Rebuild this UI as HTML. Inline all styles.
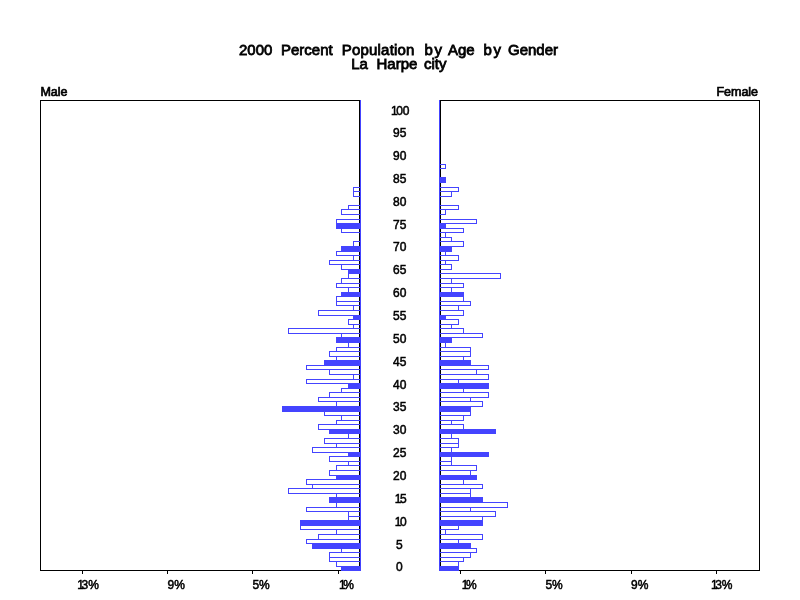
<!DOCTYPE html>
<html><head><meta charset="utf-8"><title>2000 Percent Population by Age by Gender</title>
<style>html,body{margin:0;padding:0;background:#fff}svg{display:block}text{font-family:"Liberation Sans",Arial,Helvetica,sans-serif;fill:#000}.t{font-size:15px;stroke:#000;stroke-width:.8px}.l{font-size:12px;stroke:#000;stroke-width:.5px}.h{font-size:12.5px;stroke:#000;stroke-width:.7px}</style></head><body>
<svg width="800" height="600" viewBox="0 0 800 600">
<rect width="800" height="600" fill="#fff"/>
<g shape-rendering="crispEdges">
<rect x="40.5" y="100.5" width="319" height="470" fill="none" stroke="#000" stroke-width="1"/>
<rect x="440.5" y="100.5" width="319" height="470" fill="none" stroke="#000" stroke-width="1"/>
<rect x="338" y="571" width="1" height="3" fill="#000"/>
<rect x="460" y="571" width="1" height="3" fill="#000"/>
<rect x="252" y="571" width="1" height="3" fill="#000"/>
<rect x="545" y="571" width="1" height="3" fill="#000"/>
<rect x="167" y="571" width="1" height="3" fill="#000"/>
<rect x="631" y="571" width="1" height="3" fill="#000"/>
<rect x="82" y="571" width="1" height="3" fill="#000"/>
<rect x="716" y="571" width="1" height="3" fill="#000"/>
<rect x="360" y="100" width="1" height="471" fill="#4444ff"/>
<rect x="439" y="100" width="1" height="471" fill="#4444ff"/>
<rect x="341" y="566" width="20" height="5" fill="#4444ff"/>
<rect x="439" y="566" width="20" height="5" fill="#4444ff"/>
<rect x="336.5" y="561.5" width="24" height="5" fill="none" stroke="#4444ff" stroke-width="1"/>
<rect x="439.5" y="561.5" width="19" height="5" fill="none" stroke="#4444ff" stroke-width="1"/>
<rect x="329.5" y="557.5" width="31" height="4" fill="none" stroke="#4444ff" stroke-width="1"/>
<rect x="439.5" y="557.5" width="24" height="4" fill="none" stroke="#4444ff" stroke-width="1"/>
<rect x="329.5" y="552.5" width="31" height="5" fill="none" stroke="#4444ff" stroke-width="1"/>
<rect x="439.5" y="552.5" width="31" height="5" fill="none" stroke="#4444ff" stroke-width="1"/>
<rect x="341.5" y="548.5" width="19" height="4" fill="none" stroke="#4444ff" stroke-width="1"/>
<rect x="439.5" y="548.5" width="37" height="4" fill="none" stroke="#4444ff" stroke-width="1"/>
<rect x="312" y="543" width="49" height="6" fill="#4444ff"/>
<rect x="439" y="543" width="32" height="6" fill="#4444ff"/>
<rect x="306.5" y="539.5" width="54" height="4" fill="none" stroke="#4444ff" stroke-width="1"/>
<rect x="439.5" y="539.5" width="19" height="4" fill="none" stroke="#4444ff" stroke-width="1"/>
<rect x="318.5" y="534.5" width="42" height="5" fill="none" stroke="#4444ff" stroke-width="1"/>
<rect x="439.5" y="534.5" width="43" height="5" fill="none" stroke="#4444ff" stroke-width="1"/>
<rect x="336.5" y="529.5" width="24" height="5" fill="none" stroke="#4444ff" stroke-width="1"/>
<rect x="439.5" y="529.5" width="6" height="5" fill="none" stroke="#4444ff" stroke-width="1"/>
<rect x="300.5" y="525.5" width="60" height="4" fill="none" stroke="#4444ff" stroke-width="1"/>
<rect x="439.5" y="525.5" width="19" height="4" fill="none" stroke="#4444ff" stroke-width="1"/>
<rect x="300" y="520" width="61" height="6" fill="#4444ff"/>
<rect x="439" y="520" width="44" height="6" fill="#4444ff"/>
<rect x="348.5" y="516.5" width="12" height="4" fill="none" stroke="#4444ff" stroke-width="1"/>
<rect x="439.5" y="516.5" width="43" height="4" fill="none" stroke="#4444ff" stroke-width="1"/>
<rect x="348.5" y="511.5" width="12" height="5" fill="none" stroke="#4444ff" stroke-width="1"/>
<rect x="439.5" y="511.5" width="56" height="5" fill="none" stroke="#4444ff" stroke-width="1"/>
<rect x="306.5" y="507.5" width="54" height="4" fill="none" stroke="#4444ff" stroke-width="1"/>
<rect x="439.5" y="507.5" width="31" height="4" fill="none" stroke="#4444ff" stroke-width="1"/>
<rect x="336.5" y="502.5" width="24" height="5" fill="none" stroke="#4444ff" stroke-width="1"/>
<rect x="439.5" y="502.5" width="68" height="5" fill="none" stroke="#4444ff" stroke-width="1"/>
<rect x="329" y="497" width="32" height="6" fill="#4444ff"/>
<rect x="439" y="497" width="44" height="6" fill="#4444ff"/>
<rect x="336.5" y="493.5" width="24" height="4" fill="none" stroke="#4444ff" stroke-width="1"/>
<rect x="439.5" y="493.5" width="31" height="4" fill="none" stroke="#4444ff" stroke-width="1"/>
<rect x="288.5" y="488.5" width="72" height="5" fill="none" stroke="#4444ff" stroke-width="1"/>
<rect x="439.5" y="488.5" width="31" height="5" fill="none" stroke="#4444ff" stroke-width="1"/>
<rect x="312.5" y="484.5" width="48" height="4" fill="none" stroke="#4444ff" stroke-width="1"/>
<rect x="439.5" y="484.5" width="43" height="4" fill="none" stroke="#4444ff" stroke-width="1"/>
<rect x="306.5" y="479.5" width="54" height="5" fill="none" stroke="#4444ff" stroke-width="1"/>
<rect x="439.5" y="479.5" width="24" height="5" fill="none" stroke="#4444ff" stroke-width="1"/>
<rect x="336" y="475" width="25" height="5" fill="#4444ff"/>
<rect x="439" y="475" width="38" height="5" fill="#4444ff"/>
<rect x="329.5" y="470.5" width="31" height="5" fill="none" stroke="#4444ff" stroke-width="1"/>
<rect x="439.5" y="470.5" width="31" height="5" fill="none" stroke="#4444ff" stroke-width="1"/>
<rect x="336.5" y="465.5" width="24" height="5" fill="none" stroke="#4444ff" stroke-width="1"/>
<rect x="439.5" y="465.5" width="37" height="5" fill="none" stroke="#4444ff" stroke-width="1"/>
<rect x="348.5" y="461.5" width="12" height="4" fill="none" stroke="#4444ff" stroke-width="1"/>
<rect x="439.5" y="461.5" width="12" height="4" fill="none" stroke="#4444ff" stroke-width="1"/>
<rect x="329.5" y="456.5" width="31" height="5" fill="none" stroke="#4444ff" stroke-width="1"/>
<rect x="439.5" y="456.5" width="12" height="5" fill="none" stroke="#4444ff" stroke-width="1"/>
<rect x="348" y="452" width="13" height="5" fill="#4444ff"/>
<rect x="439" y="452" width="50" height="5" fill="#4444ff"/>
<rect x="312.5" y="447.5" width="48" height="5" fill="none" stroke="#4444ff" stroke-width="1"/>
<rect x="439.5" y="447.5" width="12" height="5" fill="none" stroke="#4444ff" stroke-width="1"/>
<rect x="336.5" y="443.5" width="24" height="4" fill="none" stroke="#4444ff" stroke-width="1"/>
<rect x="439.5" y="443.5" width="19" height="4" fill="none" stroke="#4444ff" stroke-width="1"/>
<rect x="324.5" y="438.5" width="36" height="5" fill="none" stroke="#4444ff" stroke-width="1"/>
<rect x="439.5" y="438.5" width="19" height="5" fill="none" stroke="#4444ff" stroke-width="1"/>
<rect x="348.5" y="433.5" width="12" height="5" fill="none" stroke="#4444ff" stroke-width="1"/>
<rect x="439.5" y="433.5" width="12" height="5" fill="none" stroke="#4444ff" stroke-width="1"/>
<rect x="329" y="429" width="32" height="5" fill="#4444ff"/>
<rect x="439" y="429" width="57" height="5" fill="#4444ff"/>
<rect x="318.5" y="424.5" width="42" height="5" fill="none" stroke="#4444ff" stroke-width="1"/>
<rect x="439.5" y="424.5" width="24" height="5" fill="none" stroke="#4444ff" stroke-width="1"/>
<rect x="336.5" y="420.5" width="24" height="4" fill="none" stroke="#4444ff" stroke-width="1"/>
<rect x="439.5" y="420.5" width="12" height="4" fill="none" stroke="#4444ff" stroke-width="1"/>
<rect x="341.5" y="415.5" width="19" height="5" fill="none" stroke="#4444ff" stroke-width="1"/>
<rect x="439.5" y="415.5" width="24" height="5" fill="none" stroke="#4444ff" stroke-width="1"/>
<rect x="324.5" y="411.5" width="36" height="4" fill="none" stroke="#4444ff" stroke-width="1"/>
<rect x="439.5" y="411.5" width="31" height="4" fill="none" stroke="#4444ff" stroke-width="1"/>
<rect x="282" y="406" width="79" height="6" fill="#4444ff"/>
<rect x="439" y="406" width="32" height="6" fill="#4444ff"/>
<rect x="336.5" y="401.5" width="24" height="5" fill="none" stroke="#4444ff" stroke-width="1"/>
<rect x="439.5" y="401.5" width="43" height="5" fill="none" stroke="#4444ff" stroke-width="1"/>
<rect x="318.5" y="397.5" width="42" height="4" fill="none" stroke="#4444ff" stroke-width="1"/>
<rect x="439.5" y="397.5" width="31" height="4" fill="none" stroke="#4444ff" stroke-width="1"/>
<rect x="329.5" y="392.5" width="31" height="5" fill="none" stroke="#4444ff" stroke-width="1"/>
<rect x="439.5" y="392.5" width="49" height="5" fill="none" stroke="#4444ff" stroke-width="1"/>
<rect x="341.5" y="388.5" width="19" height="4" fill="none" stroke="#4444ff" stroke-width="1"/>
<rect x="439.5" y="388.5" width="24" height="4" fill="none" stroke="#4444ff" stroke-width="1"/>
<rect x="348" y="383" width="13" height="6" fill="#4444ff"/>
<rect x="439" y="383" width="50" height="6" fill="#4444ff"/>
<rect x="306.5" y="379.5" width="54" height="4" fill="none" stroke="#4444ff" stroke-width="1"/>
<rect x="439.5" y="379.5" width="19" height="4" fill="none" stroke="#4444ff" stroke-width="1"/>
<rect x="353.5" y="374.5" width="7" height="5" fill="none" stroke="#4444ff" stroke-width="1"/>
<rect x="439.5" y="374.5" width="49" height="5" fill="none" stroke="#4444ff" stroke-width="1"/>
<rect x="329.5" y="369.5" width="31" height="5" fill="none" stroke="#4444ff" stroke-width="1"/>
<rect x="439.5" y="369.5" width="37" height="5" fill="none" stroke="#4444ff" stroke-width="1"/>
<rect x="306.5" y="365.5" width="54" height="4" fill="none" stroke="#4444ff" stroke-width="1"/>
<rect x="439.5" y="365.5" width="49" height="4" fill="none" stroke="#4444ff" stroke-width="1"/>
<rect x="324" y="360" width="37" height="6" fill="#4444ff"/>
<rect x="439" y="360" width="32" height="6" fill="#4444ff"/>
<rect x="336.5" y="356.5" width="24" height="4" fill="none" stroke="#4444ff" stroke-width="1"/>
<rect x="439.5" y="356.5" width="24" height="4" fill="none" stroke="#4444ff" stroke-width="1"/>
<rect x="329.5" y="351.5" width="31" height="5" fill="none" stroke="#4444ff" stroke-width="1"/>
<rect x="439.5" y="351.5" width="31" height="5" fill="none" stroke="#4444ff" stroke-width="1"/>
<rect x="336.5" y="347.5" width="24" height="4" fill="none" stroke="#4444ff" stroke-width="1"/>
<rect x="439.5" y="347.5" width="31" height="4" fill="none" stroke="#4444ff" stroke-width="1"/>
<rect x="348.5" y="342.5" width="12" height="5" fill="none" stroke="#4444ff" stroke-width="1"/>
<rect x="439.5" y="342.5" width="6" height="5" fill="none" stroke="#4444ff" stroke-width="1"/>
<rect x="336" y="337" width="25" height="6" fill="#4444ff"/>
<rect x="439" y="337" width="13" height="6" fill="#4444ff"/>
<rect x="341.5" y="333.5" width="19" height="4" fill="none" stroke="#4444ff" stroke-width="1"/>
<rect x="439.5" y="333.5" width="43" height="4" fill="none" stroke="#4444ff" stroke-width="1"/>
<rect x="288.5" y="328.5" width="72" height="5" fill="none" stroke="#4444ff" stroke-width="1"/>
<rect x="439.5" y="328.5" width="24" height="5" fill="none" stroke="#4444ff" stroke-width="1"/>
<rect x="353.5" y="324.5" width="7" height="4" fill="none" stroke="#4444ff" stroke-width="1"/>
<rect x="439.5" y="324.5" width="12" height="4" fill="none" stroke="#4444ff" stroke-width="1"/>
<rect x="348.5" y="319.5" width="12" height="5" fill="none" stroke="#4444ff" stroke-width="1"/>
<rect x="439.5" y="319.5" width="19" height="5" fill="none" stroke="#4444ff" stroke-width="1"/>
<rect x="353" y="315" width="8" height="5" fill="#4444ff"/>
<rect x="439" y="315" width="7" height="5" fill="#4444ff"/>
<rect x="318.5" y="310.5" width="42" height="5" fill="none" stroke="#4444ff" stroke-width="1"/>
<rect x="439.5" y="310.5" width="24" height="5" fill="none" stroke="#4444ff" stroke-width="1"/>
<rect x="353.5" y="305.5" width="7" height="5" fill="none" stroke="#4444ff" stroke-width="1"/>
<rect x="439.5" y="305.5" width="19" height="5" fill="none" stroke="#4444ff" stroke-width="1"/>
<rect x="336.5" y="301.5" width="24" height="4" fill="none" stroke="#4444ff" stroke-width="1"/>
<rect x="439.5" y="301.5" width="31" height="4" fill="none" stroke="#4444ff" stroke-width="1"/>
<rect x="336.5" y="296.5" width="24" height="5" fill="none" stroke="#4444ff" stroke-width="1"/>
<rect x="439.5" y="296.5" width="24" height="5" fill="none" stroke="#4444ff" stroke-width="1"/>
<rect x="341" y="292" width="20" height="5" fill="#4444ff"/>
<rect x="439" y="292" width="25" height="5" fill="#4444ff"/>
<rect x="348.5" y="287.5" width="12" height="5" fill="none" stroke="#4444ff" stroke-width="1"/>
<rect x="439.5" y="287.5" width="12" height="5" fill="none" stroke="#4444ff" stroke-width="1"/>
<rect x="336.5" y="283.5" width="24" height="4" fill="none" stroke="#4444ff" stroke-width="1"/>
<rect x="439.5" y="283.5" width="24" height="4" fill="none" stroke="#4444ff" stroke-width="1"/>
<rect x="341.5" y="278.5" width="19" height="5" fill="none" stroke="#4444ff" stroke-width="1"/>
<rect x="439.5" y="278.5" width="12" height="5" fill="none" stroke="#4444ff" stroke-width="1"/>
<rect x="348.5" y="273.5" width="12" height="5" fill="none" stroke="#4444ff" stroke-width="1"/>
<rect x="439.5" y="273.5" width="61" height="5" fill="none" stroke="#4444ff" stroke-width="1"/>
<rect x="348" y="269" width="13" height="5" fill="#4444ff"/>
<rect x="341.5" y="264.5" width="19" height="5" fill="none" stroke="#4444ff" stroke-width="1"/>
<rect x="439.5" y="264.5" width="12" height="5" fill="none" stroke="#4444ff" stroke-width="1"/>
<rect x="329.5" y="260.5" width="31" height="4" fill="none" stroke="#4444ff" stroke-width="1"/>
<rect x="439.5" y="260.5" width="6" height="4" fill="none" stroke="#4444ff" stroke-width="1"/>
<rect x="353.5" y="255.5" width="7" height="5" fill="none" stroke="#4444ff" stroke-width="1"/>
<rect x="439.5" y="255.5" width="19" height="5" fill="none" stroke="#4444ff" stroke-width="1"/>
<rect x="336.5" y="251.5" width="24" height="4" fill="none" stroke="#4444ff" stroke-width="1"/>
<rect x="439.5" y="251.5" width="6" height="4" fill="none" stroke="#4444ff" stroke-width="1"/>
<rect x="341" y="246" width="20" height="6" fill="#4444ff"/>
<rect x="439" y="246" width="13" height="6" fill="#4444ff"/>
<rect x="353.5" y="241.5" width="7" height="5" fill="none" stroke="#4444ff" stroke-width="1"/>
<rect x="439.5" y="241.5" width="24" height="5" fill="none" stroke="#4444ff" stroke-width="1"/>
<rect x="439.5" y="237.5" width="12" height="4" fill="none" stroke="#4444ff" stroke-width="1"/>
<rect x="439.5" y="232.5" width="6" height="5" fill="none" stroke="#4444ff" stroke-width="1"/>
<rect x="341.5" y="228.5" width="19" height="4" fill="none" stroke="#4444ff" stroke-width="1"/>
<rect x="439.5" y="228.5" width="24" height="4" fill="none" stroke="#4444ff" stroke-width="1"/>
<rect x="336" y="223" width="25" height="6" fill="#4444ff"/>
<rect x="439" y="223" width="7" height="6" fill="#4444ff"/>
<rect x="336.5" y="219.5" width="24" height="4" fill="none" stroke="#4444ff" stroke-width="1"/>
<rect x="439.5" y="219.5" width="37" height="4" fill="none" stroke="#4444ff" stroke-width="1"/>
<rect x="341.5" y="209.5" width="19" height="5" fill="none" stroke="#4444ff" stroke-width="1"/>
<rect x="439.5" y="209.5" width="6" height="5" fill="none" stroke="#4444ff" stroke-width="1"/>
<rect x="348.5" y="205.5" width="12" height="4" fill="none" stroke="#4444ff" stroke-width="1"/>
<rect x="439.5" y="205.5" width="19" height="4" fill="none" stroke="#4444ff" stroke-width="1"/>
<rect x="353.5" y="191.5" width="7" height="5" fill="none" stroke="#4444ff" stroke-width="1"/>
<rect x="439.5" y="191.5" width="12" height="5" fill="none" stroke="#4444ff" stroke-width="1"/>
<rect x="353.5" y="187.5" width="7" height="4" fill="none" stroke="#4444ff" stroke-width="1"/>
<rect x="439.5" y="187.5" width="19" height="4" fill="none" stroke="#4444ff" stroke-width="1"/>
<rect x="439" y="177" width="7" height="6" fill="#4444ff"/>
<rect x="439.5" y="164.5" width="6" height="4" fill="none" stroke="#4444ff" stroke-width="1"/>
</g>
<text class="t" x="239" y="54.8">2000</text>
<text class="t" x="281" y="54.8">Percent</text>
<text class="t" x="341.75" y="54.8" letter-spacing="0.2">Population</text>
<text class="t" x="424.5" y="54.8" letter-spacing="1.6">by</text>
<text class="t" x="448" y="54.8">Age</text>
<text class="t" x="483.5" y="54.8" letter-spacing="1.6">by</text>
<text class="t" x="508" y="54.8">Gender</text>
<text class="t" x="351.25" y="68.7">La</text>
<text class="t" x="376.5" y="68.7">Harpe</text>
<text class="t" x="424" y="68.7">city</text>
<text class="h" x="40.4" y="96">Male</text>
<text class="h" x="716.4" y="96">Female</text>
<text class="l" x="395.9" y="571.4">0</text>
<text class="l" x="395.9" y="548.5">5</text>
<text class="l" x="394.8" y="525.7" dx="0 -1.4">10</text>
<text class="l" x="394.8" y="502.8" dx="0 -1.4">15</text>
<text class="l" x="393.1" y="480.0">20</text>
<text class="l" x="393.1" y="457.1">25</text>
<text class="l" x="393.1" y="434.3">30</text>
<text class="l" x="393.1" y="411.4">35</text>
<text class="l" x="393.1" y="388.5">40</text>
<text class="l" x="393.1" y="365.7">45</text>
<text class="l" x="393.1" y="342.8">50</text>
<text class="l" x="393.1" y="320.0">55</text>
<text class="l" x="393.1" y="297.1">60</text>
<text class="l" x="393.1" y="274.3">65</text>
<text class="l" x="393.1" y="251.4">70</text>
<text class="l" x="393.1" y="228.5">75</text>
<text class="l" x="393.1" y="205.7">80</text>
<text class="l" x="393.1" y="182.8">85</text>
<text class="l" x="393.1" y="160.1">90</text>
<text class="l" x="393.1" y="137.2">95</text>
<text class="l" x="390.9" y="114.9" dx="0 -1.4">100</text>
<text class="l" x="77.3" y="589" dx="0 -2.5">13%</text>
<text class="l" x="167.6" y="589">9%</text>
<text class="l" x="252.4" y="589">5%</text>
<text class="l" x="339" y="589" dx="0 -2.5">1%</text>
<text class="l" x="461.8" y="589" dx="0 -2.5">1%</text>
<text class="l" x="545.4" y="589">5%</text>
<text class="l" x="631" y="589">9%</text>
<text class="l" x="711" y="589" dx="0 -2.5">13%</text>
</svg></body></html>
